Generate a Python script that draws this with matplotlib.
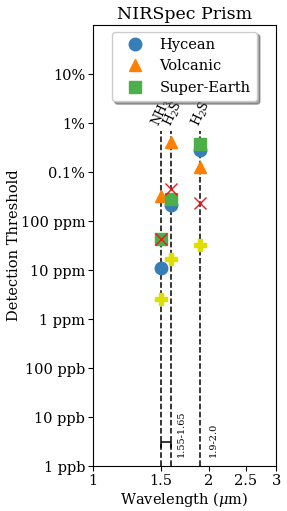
import matplotlib
matplotlib.use("Agg")
import matplotlib.pyplot as plt
from matplotlib.ticker import FixedLocator, NullLocator

plt.rcParams['font.family'] = 'DejaVu Serif'
plt.rcParams['mathtext.fontset'] = 'dejavuserif'

# molecule band positions (micron) and labels
wavelengths = [1.5, 1.6, 1.9]
molecules = ['NH$_3$', 'H$_2$S', 'H$_2$S']

# detection thresholds (volume mixing ratio)
hycean = [1.1e-5, 2.1e-4, 2.8e-3]
volcanic = [3.2e-4, 4.1e-3, 1.26e-3]
super_earth = [4.3e-5, 2.8e-4, 3.7e-3]
red_cross = [4.3e-5, 4.5e-4, 2.3e-4]
yellow_plus = [2.6e-6, 1.7e-5, 3.2e-5]

ytick_vals = [1e-9, 1e-8, 1e-7, 1e-6, 1e-5, 1e-4, 1e-3, 1e-2, 1e-1]
ytick_labels = ['1 ppb', '10 ppb', '100 ppb', '1 ppm', '10 ppm', '100 ppm',
                '0.1%', '1%', '10%']
xtick_vals = [1, 1.5, 2, 2.5, 3]
xtick_labels = ['1', '1.5', '2', '2.5', '3']

fig = plt.figure(figsize=(2.87, 5.11), dpi=100)
ax = fig.add_axes([0.324, 0.088, 0.638, 0.863])
ax.set_xscale('log')
ax.set_yscale('log')
ax.set_xlim(1, 3)
ax.set_ylim(1e-9, 1)

ax.vlines(wavelengths, 1e-9, 7e-3, colors='k', linestyles='--', lw=1.1, zorder=1)
for w, m in zip(wavelengths, molecules):
    ax.text(w * 1.01, 7.5e-3, m, rotation=65, ha='center', va='bottom', fontsize=9)

# band brackets
ax.plot([1.5, 1.5, 1.6, 1.6], [2.4e-9, 3.1e-9, 3.1e-9, 2.4e-9], color='k', lw=1.1)
ax.text(1.65, 1.5e-9, '1.55-1.65', rotation=90, ha='left', va='bottom', fontsize=7)
ax.text(2.0, 1.5e-9, '1.9-2.0', rotation=90, ha='left', va='bottom', fontsize=7)

ms = 9
ax.plot(wavelengths, hycean, 'o', color='#377eb8', ms=ms, ls='none', label='Hycean', zorder=3)
ax.plot(wavelengths, volcanic, '^', color='#ff7f00', ms=ms, ls='none', label='Volcanic', zorder=3)
ax.plot(wavelengths, super_earth, 's', color='#4daf4a', ms=ms, ls='none', label='Super-Earth', zorder=3)
ax.plot(wavelengths, red_cross, 'x', color='#e41a1c', ms=8, mew=1.0, ls='none', zorder=4)
ax.plot(wavelengths, yellow_plus, 'P', color='#dede00', ms=ms, ls='none', zorder=4)

ax.yaxis.set_major_locator(FixedLocator(ytick_vals))
ax.set_yticklabels(ytick_labels)
ax.yaxis.set_minor_locator(NullLocator())
ax.xaxis.set_major_locator(FixedLocator(xtick_vals))
ax.set_xticklabels(xtick_labels)
ax.xaxis.set_minor_locator(NullLocator())
ax.tick_params(labelsize=10.5, pad=2)

ax.set_xlabel('Wavelength ($\\mu$m)', fontsize=10.5, labelpad=2)
ax.set_ylabel('Detection Threshold', fontsize=10.5, labelpad=0)
ax.set_title('NIRSpec Prism', fontsize=12.5, pad=4)

ax.legend(loc='upper center', fontsize=10.5, shadow=True, handlelength=2.2,
          handletextpad=0.6, borderpad=0.45, labelspacing=0.5, borderaxespad=0.45)

fig.savefig('out.png', dpi=100)
